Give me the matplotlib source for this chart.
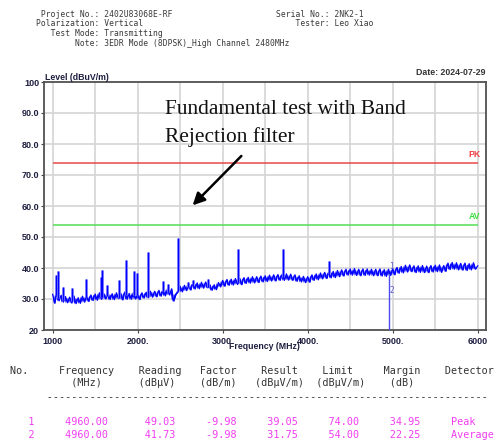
import numpy as np
import matplotlib
matplotlib.use("Agg")
import matplotlib.pyplot as plt

# ---------------- data ----------------
freq_start, freq_step = 1000, 25
trace = [
    31.5, 28.6, 32.0, 29.4, 31.2, 29.0, 30.8, 28.8, 30.6, 28.7, 31.0, 28.5,
    30.4, 28.6, 30.9, 29.0, 31.0, 29.2, 31.3, 29.5, 31.6, 29.6, 32.0, 29.9,
    31.8, 30.0, 32.2, 29.8, 31.7, 29.8, 32.0, 30.1, 31.9, 29.7, 32.3, 29.9,
    31.8, 29.9, 32.1, 30.0, 31.6, 29.8, 32.0, 30.3, 32.2, 30.4, 32.5, 30.6,
    32.5, 30.7, 32.8, 30.9, 32.9, 31.0, 33.2, 31.3, 33.3, 29.3, 31.5, 32.3,
    34.1, 32.3, 34.4, 32.7, 34.8, 32.9, 35.1, 33.2, 35.2, 33.3, 35.4, 33.5,
    35.5, 33.6, 34.6, 32.8, 34.6, 33.0, 35.3, 33.9, 36.0, 34.1, 36.3, 34.4,
    36.4, 34.5, 36.6, 34.7, 36.7, 34.6, 36.9, 35.0, 37.0, 35.1, 37.2, 35.2,
    37.2, 35.3, 37.4, 35.5, 37.5, 35.6, 37.7, 35.8, 37.8, 35.8, 37.9, 36.0,
    38.0, 36.0, 38.1, 36.1, 38.0, 36.0, 37.8, 35.7, 37.5, 35.5, 37.3, 35.3,
    37.2, 35.4, 37.8, 36.0, 38.1, 36.2, 38.4, 36.5, 38.6, 36.6, 38.8, 36.8,
    38.9, 36.9, 39.2, 37.2, 39.4, 37.4, 39.6, 37.7, 39.7, 37.7, 39.8, 37.6,
    39.6, 37.5, 39.7, 37.6, 39.7, 37.7, 39.6, 37.5, 39.6, 37.5, 39.7, 37.4,
    39.5, 37.3, 39.6, 37.6, 39.7, 37.8, 40.2, 38.3, 40.5, 38.4, 40.9, 38.7,
    41.0, 38.8, 40.7, 38.5, 40.7, 38.6, 40.8, 38.5, 40.6, 38.5, 40.8, 38.7,
    40.9, 38.8, 41.0, 38.6, 40.8, 38.9, 41.6, 39.5, 41.8, 39.6, 41.7, 39.4,
    41.5, 39.3, 41.6, 39.2, 41.4, 39.4, 41.7, 39.6, 40.7,
]
spike_freqs = [1045, 1066, 1117, 1231, 1396, 1565, 1584, 1635, 1780, 1859,
               1961, 1996, 2121, 2294, 2361, 2478, 2588, 2655, 2831, 3184,
               3713, 4254]
spike_levels = [37.7, 39.0, 33.8, 33.5, 36.5, 37.2, 39.4, 34.5, 36.1, 42.6,
                38.9, 38.5, 45.1, 35.8, 35.0, 49.7, 35.4, 36.0, 36.4, 46.0,
                46.1, 42.3]
limit_pk = 74.0
limit_av = 54.0
marker_freq = 4960.0
marker_levels = [39.05, 31.75]
marker_labels = ["1", "2"]

x_ticks = [1000, 2000, 3000, 4000, 5000, 6000]
x_ticklabels = ["1000", "2000.", "3000.", "4000.", "5000.", "6000"]
y_ticks = [20, 30, 40, 50, 60, 70, 80, 90, 100]
y_ticklabels = ["20", "30.0", "40.0", "50.0", "60.0", "70.0", "80.0", "90.0", "100"]

header_left = [("Project No.:", "2402U83068E-RF"), ("Polarization:", "Vertical"),
               ("Test Mode:", "Transmitting"),
               ("Note:", "3EDR Mode (8DPSK)_High Channel 2480MHz")]
header_right = [("Serial No.:", "2NK2-1"), ("Tester:", "Leo Xiao")]
date_text = "Date: 2024-07-29"

table_head1 = ["No.", "Frequency", "Reading", "Factor", "Result", "Limit", "Margin", "Detector"]
table_head2 = ["(MHz)", "(dBμV)", "(dB/m)", "(dBμV/m)", "(dBμV/m)", "(dB)"]
table_rows = [
    ["1", "4960.00", "49.03", "-9.98", "39.05", "74.00", "34.95", "Peak"],
    ["2", "4960.00", "41.73", "-9.98", "31.75", "54.00", "22.25", "Average"],
]

# ---------------- figure ----------------
W, H = 494, 444
fig = plt.figure(figsize=(W / 100, H / 100), dpi=100)

def P(x, y):
    return (x / W, 1 - y / H)

ax_l, ax_r, ax_t, ax_b = 44, 485.7, 82, 330
ax = fig.add_axes([ax_l / W, 1 - ax_b / H, (ax_r - ax_l) / W, (ax_b - ax_t) / H])
ax.set_xlim(898, 6094)
ax.set_ylim(20, 100)

freqs = freq_start + freq_step * np.arange(len(trace))
tr = np.array(trace)
grid_c = "#d4d4d4"
for xv in np.arange(1000, 6001, 500):
    ax.axvline(xv, color=grid_c, lw=1.2, zorder=0)
for yv in range(30, 100, 10):
    ax.axhline(yv, color=grid_c, lw=1.2, zorder=0)

ax.hlines(limit_pk, 1000, 6000, color="#e84848", lw=1.1, zorder=2)
ax.hlines(limit_av, 1000, 6000, color="#55dd55", lw=1.1, zorder=2)
ax.text(5960, limit_pk + 1.2, "PK", color="#f03c3c", fontsize=6.3,
        fontweight="bold", ha="center", va="bottom", family="Liberation Sans")
ax.text(5960, limit_av + 1.2, "AV", color="#3ddc3d", fontsize=6.3,
        fontweight="bold", ha="center", va="bottom", family="Liberation Sans")

# dense noise band: fill between each sample and its neighbour, then the trace
ax.fill_between(freqs[:-1], tr[:-1], tr[1:], color="#1010ff", lw=0, zorder=3)
ax.plot(freqs, tr, color="#0000ff", lw=0.9, zorder=3)
base = np.interp(spike_freqs, freqs, tr)
ax.vlines(spike_freqs, base, spike_levels, color="#8080ff", lw=2.0, zorder=3)
ax.vlines(spike_freqs, base, spike_levels, color="#0000ff", lw=0.9, zorder=3)

ax.vlines(marker_freq, 20, 38.2, color="#4a4af0", lw=1.0, zorder=4)
ax.text(marker_freq + 30, 40.4, marker_labels[0], color="#5a5ad0", fontsize=5.5,
        ha="center", va="center", family="DejaVu Sans Mono")
ax.text(marker_freq + 30, 32.9, marker_labels[1], color="#5a5ad0", fontsize=5.5,
        ha="center", va="center", family="DejaVu Sans Mono")

ax.set_xticks(x_ticks)
ax.set_xticklabels(x_ticklabels)
ax.set_yticks(y_ticks)
ax.set_yticklabels(y_ticklabels)
lab_c = "#1e1e40"
ax.tick_params(axis="both", length=2, width=0.8, color="#444444", pad=1.5,
               labelsize=6.5, labelcolor=lab_c)
for t in ax.get_xticklabels() + ax.get_yticklabels():
    t.set_fontweight("bold")
    t.set_family("Liberation Sans")
ax.tick_params(axis="x", pad=3)
for s in ax.spines.values():
    s.set_color("#505050")
    s.set_linewidth(1.3)

fig.text(*P(264.9, 346), "Frequency (MHz)", ha="center", va="center",
         fontsize=6.3, fontweight="bold", color=lab_c, family="Liberation Sans")
fig.text(*P(44.5, 79.5), "Level (dBuV/m)", ha="left", va="baseline",
         fontsize=6.3, fontweight="bold", color=lab_c, family="Liberation Sans")
fig.text(*P(485.7, 72.7), date_text, ha="right", va="center",
         fontsize=6.3, fontweight="bold", color="#333333", family="Liberation Sans")

# header block
hy = [14.3, 24.0, 33.3, 43.3]
for (lab, val), y in zip(header_left, hy):
    fig.text(*P(35.5, y), f"{lab:>13} {val}", ha="left", va="center",
             fontsize=5.8, color="#3a3a3a", family="DejaVu Sans Mono")
for (lab, val), y in zip(header_right, hy):
    fig.text(*P(276.0, y), f"{lab:>11} {val}", ha="left", va="center",
             fontsize=5.8, color="#3a3a3a", family="DejaVu Sans Mono")

# annotation
fig.text(*P(165, 113.5), "Fundamental test with Band", ha="left", va="baseline",
         fontsize=15.4, family="Liberation Serif", color="#111111")
fig.text(*P(165, 142), "Rejection filter", ha="left", va="baseline",
         fontsize=15.4, family="Liberation Serif", color="#111111")
fig.patches.append(matplotlib.patches.FancyArrowPatch(
    P(243.3, 154), P(190.7, 207.3), transform=fig.transFigure,
    arrowstyle="-|>", mutation_scale=18, lw=1.8, color="black"))

# table
def row_string(tokens, cols):
    s = ""
    for tok, c in zip(tokens, cols):
        s = s.ljust(c) + tok
    return s

tx0 = 10.3
tfs = 7.3
h1_cols = [0, 8, 21, 31, 41, 51, 61, 71]
h2_cols = [10, 21, 31, 40, 50, 62]
r_cols = [3, 9, 22, 32, 42, 52, 62, 72]
fig.text(*P(tx0, 374), row_string(table_head1, h1_cols), ha="left", va="baseline",
         fontsize=tfs, color="#333333", family="DejaVu Sans Mono")
fig.text(*P(tx0, 386), row_string(table_head2, h2_cols), ha="left", va="baseline",
         fontsize=tfs, color="#333333", family="DejaVu Sans Mono")
fig.text(*P(tx0, 400), " " * 6 + "-" * 72, ha="left", va="baseline",
         fontsize=tfs, color="#333333", family="DejaVu Sans Mono")
for row, y in zip(table_rows, [425, 437.7]):
    fig.text(*P(tx0, y), row_string(row, r_cols), ha="left", va="baseline",
             fontsize=tfs, color="#f03cf0", family="DejaVu Sans Mono")

fig.savefig("out.png", dpi=100)
